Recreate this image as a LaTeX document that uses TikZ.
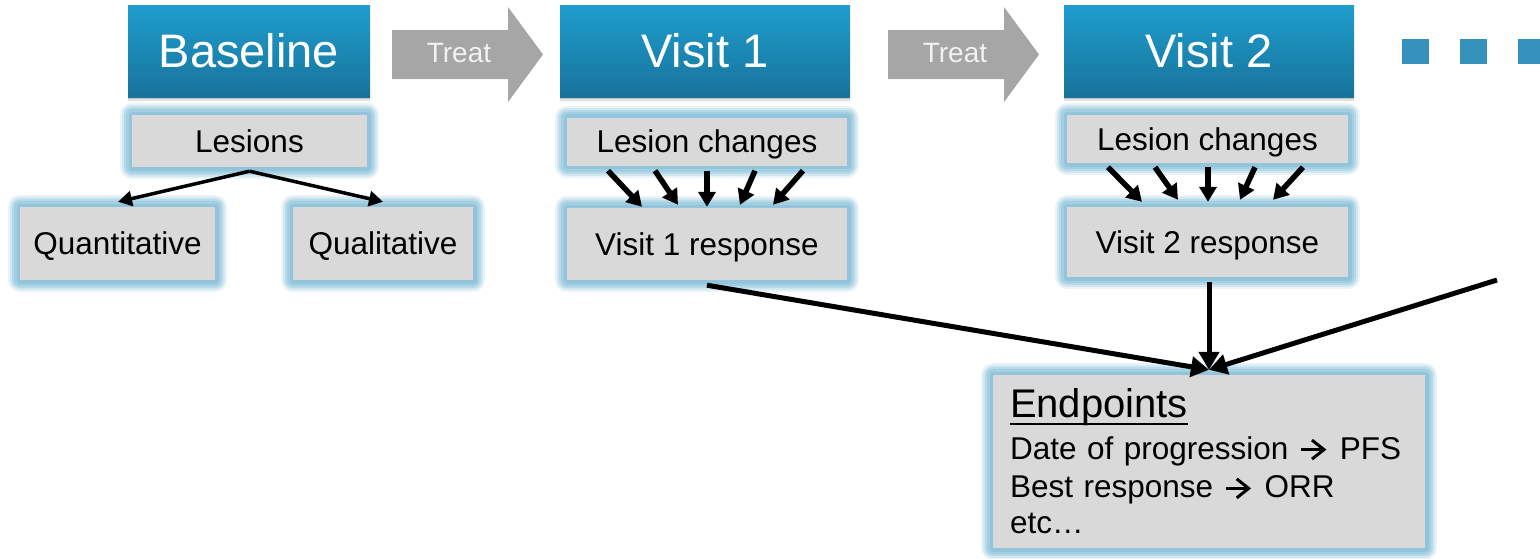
\documentclass[tikz,border=0pt]{standalone}
\usepackage{fontspec}
\setmainfont{Liberation Sans}
\usetikzlibrary{arrows.meta,backgrounds}
\definecolor{hdrTop}{HTML}{1F9DCE}
\definecolor{hdrBot}{HTML}{17739B}
\definecolor{boxGray}{HTML}{D9D9D9}
\definecolor{glowA}{HTML}{EAF4F8}
\definecolor{glowB}{HTML}{D2E7F0}
\definecolor{glowC}{HTML}{B8DAE8}
\definecolor{glowD}{HTML}{A2CFE2}
\definecolor{glowE}{HTML}{92C5DB}
\definecolor{treatGray}{HTML}{A6A6A6}
\definecolor{treatText}{HTML}{F2F2F2}
\definecolor{sqBlue}{HTML}{3592BC}
\newcommand\ulword[1]{\setbox0\hbox{#1}\rlap{\rule[-7pt]{\wd0}{2pt}}\box0}
\newcommand\rarr{\tikz[baseline=0pt]{\draw[line width=3pt,line cap=butt,
  -{Straight Barb[length=12pt,width=19pt,line width=3pt]}] (0pt,9.5pt) -- (25pt,9.5pt);}}
\tikzset{
  header/.style={minimum width=290pt, minimum height=92pt, inner sep=0pt,
    top color=hdrTop, bottom color=hdrBot, text=white,
    font=\fontsize{47}{50}\selectfont, text height=33.6pt, text depth=0pt},
  glowbox/.style={fill=boxGray, inner sep=0pt,
    font=\fontsize{31.5}{36}\selectfont, text height=22.6pt, text depth=0pt,
    preaction={draw=glowA, line width=24pt, line join=round},
    preaction={draw=glowB, line width=20pt, line join=round},
    preaction={draw=glowC, line width=16pt, line join=round},
    preaction={draw=glowD, line width=12pt, line join=round},
    preaction={draw=glowE, line width=7pt, line join=round}},
  treatlbl/.style={inner sep=0pt, text=treatText,
    font=\fontsize{28}{30}\selectfont, text height=20pt, text depth=0pt},
  conn/.style={line width=5pt, -{Triangle[width=20pt,length=18pt]}},
  smallarr/.style={line width=5.5pt, -{Triangle[width=17pt,length=15pt]}},
  lesarr/.style={line width=3.5pt, -{Triangle[width=15pt,length=14pt]}},
  shadowbox/.style={fill=black, opacity=0.12}
}
\begin{document}
\begin{tikzpicture}[x=1pt,y=-1pt]
\useasboundingbox (0,0) rectangle (1540,558);

% headers
\node[header, minimum width=242pt] (base) at (249,51) {Baseline};
\node[header] (v1) at (705,51) {Visit 1};
\node[header] (v2) at (1209,51) {Visit 2};
\begin{pgfonlayer}{background}
  \foreach \h in {base,v1,v2}{
    \fill[shadowbox] ([yshift=-2pt]\h.south west) rectangle ([yshift=-2pt]\h.north east);
    \fill[shadowbox] ([yshift=-4pt]\h.south west) rectangle ([yshift=-4pt]\h.north east);
  }
\end{pgfonlayer}

% treat arrows
\fill[treatGray] (392,30) -- (508,30) -- (508,7) -- (543,54.5) -- (508,102) -- (508,79) -- (392,79) -- cycle;
\node[treatlbl] (treat1) at (459,52.5) {Treat};
\fill[treatGray] (888,30) -- (1004,30) -- (1004,7) -- (1039,54.5) -- (1004,102) -- (1004,79) -- (888,79) -- cycle;
\node[treatlbl] (treat2) at (955,52.5) {Treat};

% dots
\fill[sqBlue] (1402,39) rectangle (1429,64);
\fill[sqBlue] (1460,39) rectangle (1487,64);
\fill[sqBlue] (1518,39) rectangle (1545,64);

% baseline column
\node[glowbox, minimum width=235pt, minimum height=52pt] (les0) at (249.5,141) {Lesions};
\node[glowbox, minimum width=195pt, minimum height=73pt] (quant) at (117.5,243.5) {Quantitative};
\node[glowbox, minimum width=180pt, minimum height=73pt] (qual) at (383,243.5) {Qualitative};
\draw[lesarr] ([yshift=-4pt]les0.south) -- ([xshift=0.5pt,yshift=5pt]quant.north);
\draw[lesarr] ([yshift=-4pt]les0.south) -- ([yshift=5pt]qual.north);

% visit 1 column
\node[glowbox, minimum width=280pt, minimum height=48pt] (les1) at (707,141.5) {Lesion changes};
\node[glowbox, minimum width=280pt, minimum height=72pt] (resp1) at (707,244) {Visit 1 response};
\draw[smallarr] ([xshift=-99pt,yshift=-5pt]les1.south) -- ([xshift=-65pt,yshift=1pt]resp1.north);
\draw[smallarr] ([xshift=-52pt,yshift=-5pt]les1.south) -- ([xshift=-29pt,yshift=3pt]resp1.north);
\draw[smallarr] ([xshift=0pt,yshift=-5pt]les1.south) -- ([xshift=0pt,yshift=1pt]resp1.north);
\draw[smallarr] ([xshift=48pt,yshift=-5pt]les1.south) -- ([xshift=33pt,yshift=3pt]resp1.north);
\draw[smallarr] ([xshift=96pt,yshift=-5pt]les1.south) -- ([xshift=66pt,yshift=3pt]resp1.north);

% visit 2 column
\node[glowbox, minimum width=281pt, minimum height=48pt] (les2) at (1207.5,139) {Lesion changes};
\node[glowbox, minimum width=281pt, minimum height=70pt] (resp2) at (1207.5,242) {Visit 2 response};
\draw[smallarr] ([xshift=-99.5pt,yshift=-4pt]les2.south) -- ([xshift=-65.5pt,yshift=5pt]resp2.north);
\draw[smallarr] ([xshift=-52.5pt,yshift=-4pt]les2.south) -- ([xshift=-29.5pt,yshift=7pt]resp2.north);
\draw[smallarr] ([xshift=0.5pt,yshift=-4pt]les2.south) -- ([xshift=0.5pt,yshift=5pt]resp2.north);
\draw[smallarr] ([xshift=47.5pt,yshift=-4pt]les2.south) -- ([xshift=32.5pt,yshift=7pt]resp2.north);
\draw[smallarr] ([xshift=95.5pt,yshift=-4pt]les2.south) -- ([xshift=65.5pt,yshift=7pt]resp2.north);

% endpoints
\node[glowbox, minimum width=432pt, minimum height=173pt, text width=398pt, align=left,
      text height=, text depth=] (endp) at (1209,461.5)
  {\fontsize{40}{44}\selectfont\ulword{Endpoints}\\[2.5pt]
   \fontsize{31.5}{38.8}\selectfont Date of progression\hspace{1pt} \rarr\hspace{1pt} PFS\\
   Best response\hspace{1pt} \rarr\hspace{1pt} ORR\\
   etc…};
\coordinate (farR) at (1497,280);
\draw[conn] ([yshift=-5pt]resp1.south) -- ([yshift=5pt]endp.north);
\draw[conn] ([xshift=1.5pt,yshift=-5pt]resp2.south) -- ([yshift=5pt]endp.north);
\draw[conn] (farR) -- ([yshift=5pt]endp.north);
\end{tikzpicture}
\end{document}
